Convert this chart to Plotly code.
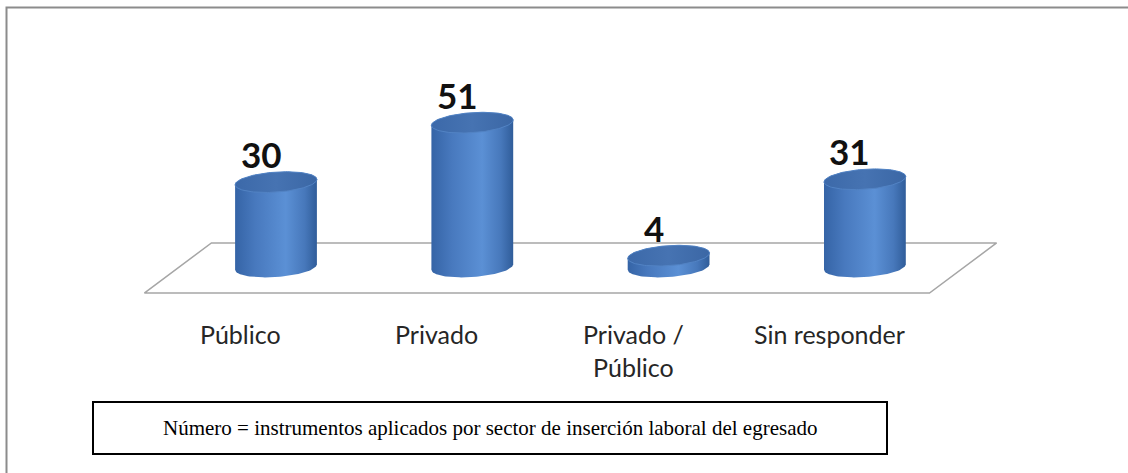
import numpy as np
import plotly.graph_objects as go

# ---- data ----
categories = ["Público", "Privado", "Privado /<br>Público", "Sin responder"]
values = [30, 51, 4, 31]
note_text = "Número = instrumentos aplicados por sector de inserción laboral del egresado"

# ---- geometry (pixel scales of the reference) ----
W, H = 1128, 473
PX_X = 196.3      # pixels per category step
X0_PX = 276.0     # pixel of first category centre
PX_Y = 2.83       # pixels per unit value
Y0_PX = 267.0     # pixel row of value 0
x_range = [-X0_PX / PX_X, (W - X0_PX) / PX_X]
y_range = [(Y0_PX - H) / PX_Y, Y0_PX / PX_Y]

R_PX, B_PX, TILT = 41.0, 10.0, np.deg2rad(4)


def ellipse(cx, cy, t):
    px = R_PX * np.cos(t)
    py = B_PX * np.sin(t)
    rx = px * np.cos(TILT) - py * np.sin(TILT)
    ry = px * np.sin(TILT) + py * np.cos(TILT)
    return cx + rx / PX_X, cy + ry / PX_Y


fig = go.Figure()

# floor parallelogram
n = len(categories)
fx_l, fx_r = -0.5, n - 0.5
dx, dy_f, dy_b = 0.171, -9.2, 8.5
fig.add_trace(go.Scatter(
    x=[fx_l - dx, fx_r - dx, fx_r + dx, fx_l + dx, fx_l - dx],
    y=[dy_f, dy_f, dy_b, dy_b, dy_f],
    mode="lines", fill="toself", fillcolor="white",
    line=dict(color="#a6a6a6", width=1.5), hoverinfo="skip", showlegend=False))

body_scale = [[0, "#3564a6"], [0.25, "#4879be"], [0.62, "#5b90d5"], [0.85, "#4778bb"], [1, "#305d9a"]]
top_scale = [[0, "#3c69a9"], [0.5, "#4673b2"], [1, "#3b67a5"]]

for i, v in enumerate(values):
    tb = np.linspace(np.pi, 2 * np.pi, 60)
    bx, by = ellipse(i, 0, tb)
    tt = np.linspace(0, np.pi, 60)
    tx, ty = ellipse(i, v, tt)
    xs = np.concatenate([bx, tx, bx[:1]])
    ys = np.concatenate([by, ty, by[:1]])
    fig.add_trace(go.Scatter(
        x=xs, y=ys, mode="lines", fill="toself",
        fillgradient=dict(type="horizontal", colorscale=body_scale),
        line=dict(width=0, color="rgba(0,0,0,0)"), hoverinfo="skip", showlegend=False))
    ta = np.linspace(0, 2 * np.pi, 120)
    ex, ey = ellipse(i, v, ta)
    fig.add_trace(go.Scatter(
        x=ex, y=ey, mode="lines", fill="toself",
        fillgradient=dict(type="horizontal", colorscale=top_scale),
        line=dict(width=1, color="#5283c4"), hoverinfo="skip", showlegend=False))
    fig.add_annotation(x=i, y=v, text=f"<b>{v}</b>", showarrow=False,
                       yanchor="bottom", yshift=B_PX - 5, xshift=-15,
                       font=dict(family="Lato", size=35, color="#111111"))
    fig.add_annotation(x=i - 0.18, y=dy_f, text=categories[i], showarrow=False,
                       yanchor="top", yshift=-24,
                       font=dict(family="Lato", size=25, color="#262626"))

# note box
fig.add_shape(type="rect", xref="paper", yref="paper",
              x0=93 / W, x1=887 / W, y0=1 - 454 / H, y1=1 - 402 / H,
              line=dict(color="black", width=2), fillcolor="white")
fig.add_annotation(xref="paper", yref="paper", x=490 / W, y=1 - 428 / H,
                   text=note_text, showarrow=False, xanchor="center", yanchor="middle",
                   font=dict(family="Liberation Serif", size=21, color="black"))

# outer frame (right/bottom sides fall outside the picture)
fig.add_shape(type="rect", xref="paper", yref="paper",
              x0=6.5 / W, x1=1.02, y0=-0.03, y1=1 - 7.5 / H,
              line=dict(color="#8c8c8c", width=2), layer="below")

fig.update_layout(
    width=W, height=H, margin=dict(l=0, r=0, t=0, b=0, pad=0),
    paper_bgcolor="white", plot_bgcolor="rgba(0,0,0,0)",
    xaxis=dict(range=x_range, visible=False, fixedrange=True),
    yaxis=dict(range=y_range, visible=False, fixedrange=True),
    showlegend=False,
)

fig.write_html("out.html", config={"displayModeBar": False},
               post_script="document.body.style.margin='0';")
